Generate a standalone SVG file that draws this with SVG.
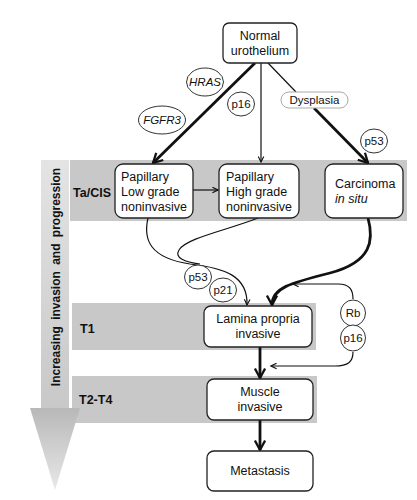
<svg xmlns="http://www.w3.org/2000/svg" width="417" height="500" viewBox="0 0 417 500">
<defs>
<style>
text{font-family:"Liberation Sans",Arial,sans-serif;fill:#111;}
.t{font-size:12.5px;}
.s{font-size:11.5px;}
.c{text-anchor:middle;}
.b{font-weight:bold;}
.i{font-style:italic;}
.band{fill:#c8c8c8;}
.box{fill:#fff;stroke:#222;stroke-width:1.3;}
.lab{fill:#fff;stroke:#333;stroke-width:1;}
.thin{fill:none;stroke:#111;stroke-width:1.2;}
.thick{fill:none;stroke:#111;stroke-width:2.8;}
</style>
<marker id="ah" viewBox="0 0 10 10" refX="9" refY="5" markerWidth="7" markerHeight="7" markerUnits="userSpaceOnUse" orient="auto">
<path d="M1,1 L9,5 L1,9" fill="none" stroke="#111" stroke-width="1.6"/>
</marker>
<marker id="ahT" viewBox="0 0 10 10" refX="8.5" refY="5" markerWidth="4.5" markerHeight="4.5" orient="auto">
<path d="M1,1 L8.5,5 L1,9" fill="none" stroke="#111" stroke-width="1.8"/>
</marker>
<linearGradient id="gshaft" x1="0" y1="0" x2="0" y2="1">
<stop offset="0" stop-color="#e4e4e4"/>
<stop offset="1" stop-color="#c8c8c8"/>
</linearGradient>
<linearGradient id="ghead" x1="0" y1="0" x2="0" y2="1">
<stop offset="0" stop-color="#b8b8b8"/>
<stop offset="1" stop-color="#e8e8e8"/>
</linearGradient>
</defs>
<rect width="417" height="500" fill="#fff"/>

<g id="bands">
<rect class="band" x="70" y="160" width="337" height="61"/>
<rect class="band" x="72" y="303" width="244" height="47"/>
<rect class="band" x="72" y="376" width="245" height="47"/>
<text class="t b" x="73" y="197">Ta/CIS</text>
<text class="t b" x="80" y="333">T1</text>
<text class="t b" x="79" y="404">T2-T4</text>
</g>

<g id="progression-arrow">
<rect x="41" y="160" width="28" height="249" fill="url(#gshaft)"/>
<polygon points="30,408 80,408 55,490" fill="url(#ghead)"/>
<text class="b" font-size="12" text-anchor="middle" word-spacing="3" transform="translate(59.5,277) rotate(-90)">Increasing invasion and progression</text>
</g>

<g id="connectors">
<path class="thick" d="M255,63 L153,163" marker-end="url(#ahT)"/>
<path class="thin" d="M261,63 L261,162" marker-end="url(#ah)"/>
<path class="thin" d="M268,63 L296,92"/>
<path class="thick" d="M314,108 L368,163" marker-end="url(#ahT)"/>
<path class="thin" d="M193,190 L218,190" marker-end="url(#ah)"/>
<path class="thin" d="M148,218 C143,240 150,258 190,264 C225,268 248,276 247,305" marker-end="url(#ah)"/>
<path class="thin" d="M258,218 C228,230 186,238 179,250 C174,258 185,262 200,264"/>
<path class="thick" d="M368,218 C374,240 372,262 330,273 C290,283 272,288 272,305" marker-end="url(#ahT)"/>
<path class="thin" d="M353,299 C353,290 350,284 338,284 L293,284" marker-end="url(#ah)"/>
<path class="thin" d="M353,352 C353,362 348,366 335,366 L271,366" marker-end="url(#ah)"/>
<path class="thick" d="M260,347 L260,378" marker-end="url(#ahT)"/>
<path class="thick" d="M260,420 L260,450" marker-end="url(#ahT)"/>
</g>

<g id="normal">
<rect class="box" x="223" y="23" width="74" height="40" rx="6"/>
<text class="t c" x="260" y="40">Normal</text>
<text class="t c" x="260" y="55">urothelium</text>
</g>

<g id="low-grade">
<rect class="box" x="115" y="164" width="78" height="54" rx="8"/>
<text class="t" x="121" y="181">Papillary</text>
<text class="t" x="121" y="196">Low grade</text>
<text class="t" x="121" y="211">noninvasive</text>
</g>

<g id="high-grade">
<rect class="box" x="219" y="164" width="80" height="54" rx="8"/>
<text class="t" x="226" y="181">Papillary</text>
<text class="t" x="226" y="196">High grade</text>
<text class="t" x="226" y="211">noninvasive</text>
</g>

<g id="cis">
<rect class="box" x="325" y="164" width="78" height="54" rx="8"/>
<text class="t" x="335" y="188">Carcinoma</text>
<text class="t i" x="335" y="203">in situ</text>
</g>

<g id="lamina">
<rect class="box" x="204" y="306" width="108" height="41" rx="7"/>
<text class="t c" x="258" y="323">Lamina propria</text>
<text class="t c" x="258" y="338">invasive</text>
</g>

<g id="muscle">
<rect class="box" x="207" y="379" width="106" height="41" rx="7"/>
<text class="t c" x="260" y="396">Muscle</text>
<text class="t c" x="260" y="411">invasive</text>
</g>

<g id="metastasis">
<rect class="box" x="207" y="451" width="106" height="40" rx="7"/>
<text class="t c" x="260" y="475">Metastasis</text>
</g>

<g id="labels">
<ellipse class="lab" cx="205" cy="82" rx="18.5" ry="14"/>
<text class="s c i" x="205" y="86">HRAS</text>
<ellipse class="lab" cx="162" cy="120" rx="23.5" ry="14"/>
<text class="s c i" x="162" y="124">FGFR3</text>
<ellipse class="lab" cx="241" cy="104" rx="13.5" ry="12"/>
<text class="s c" x="241" y="108">p16</text>
<rect x="281" y="92" width="67" height="16" rx="8" fill="#fff" stroke="#aaa" stroke-width="1"/>
<text class="s c" x="314.5" y="104">Dysplasia</text>
<ellipse class="lab" cx="374" cy="141" rx="13.5" ry="12"/>
<text class="s c" x="374" y="145">p53</text>
<ellipse class="lab" cx="198" cy="277" rx="13.5" ry="12"/>
<text class="s c" x="198" y="281">p53</text>
<ellipse class="lab" cx="223" cy="290" rx="13.5" ry="12"/>
<text class="s c" x="223" y="294">p21</text>
<ellipse class="lab" cx="353" cy="313" rx="12.5" ry="13"/>
<text class="s c" x="353" y="317">Rb</text>
<ellipse class="lab" cx="353" cy="338" rx="12.5" ry="13"/>
<text class="s c" x="353" y="342">p16</text>
</g>
</svg>
